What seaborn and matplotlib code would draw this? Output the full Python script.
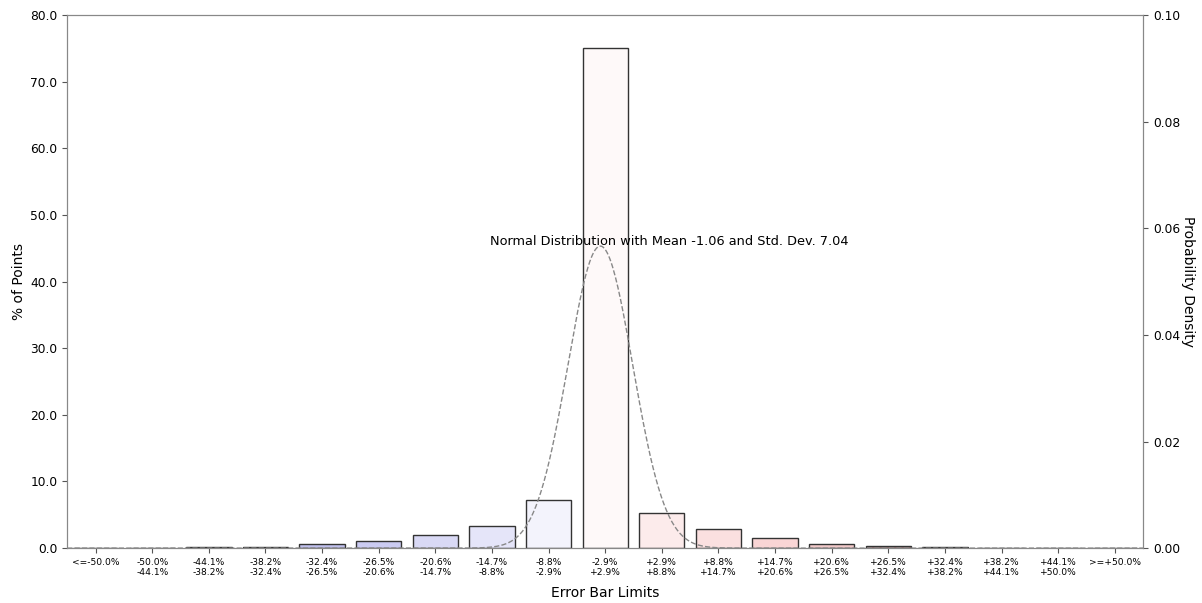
import numpy as np
import pandas as pd
import matplotlib
matplotlib.use("Agg")
import matplotlib.pyplot as plt
import seaborn as sns

# Données
bins = ["<=-50.0%", "-50.0%\n-44.1%", "-44.1%\n-38.2%", "-38.2%\n-32.4%", "-32.4%\n-26.5%",
        "-26.5%\n-20.6%", "-20.6%\n-14.7%", "-14.7%\n-8.8%", "-8.8%\n-2.9%", "-2.9%\n+2.9%",
        "+2.9%\n+8.8%", "+8.8%\n+14.7%", "+14.7%\n+20.6%", "+20.6%\n+26.5%", "+26.5%\n+32.4%",
        "+32.4%\n+38.2%", "+38.2%\n+44.1%", "+44.1%\n+50.0%", ">=+50.0%"]
pct_points = [0.03, 0.05, 0.1, 0.2, 0.55, 1.0, 2.0, 3.3, 7.25, 75.1,
              5.2, 2.9, 1.45, 0.65, 0.35, 0.15, 0.07, 0.03, 0.02]
bar_colors = ["#101060", "#202090", "#3030b8", "#6060d8", "#b8b8f4", "#c4c4f8",
              "#d4d4fa", "#e2e2fc", "#f1f1fe", "#fff8f8", "#ffe8e8", "#ffdcdc",
              "#ffcfcf", "#f8c2c2", "#c08888", "#a05858", "#803838", "#602020", "#401010"]
mean_err = -1.06
std_err = 7.04
curve_scale = 12.3  # % d'erreur par classe sur l'axe de la courbe

df = pd.DataFrame({"bin": bins, "pct": pct_points})

sns.set_style("ticks", {"axes.edgecolor": "#888888", "text.color": "black",
                        "axes.labelcolor": "black", "xtick.color": "#555555",
                        "ytick.color": "#555555"})
plt.rcParams["font.family"] = ["DejaVu Sans"]

fig, ax = plt.subplots(figsize=(12.02, 6.03), dpi=100)
fig.subplots_adjust(left=0.056, right=0.951, top=0.975, bottom=0.091)

sns.barplot(data=df, x="bin", y="pct", hue="bin", palette=bar_colors, legend=False,
            width=0.8, edgecolor="#333333", linewidth=1.0, ax=ax)
ax.set_xlim(-0.5, 18.5)
ax.set_ylim(0, 80)
ax.set_yticks(np.arange(0, 81, 10))
ax.set_yticklabels([f"{v:.1f}" for v in np.arange(0, 81, 10)], fontsize=8.8, color="black")
ax.tick_params(axis="x", labelsize=6.6, labelcolor="black")
ax.set_xlabel("Error Bar Limits", fontsize=10, labelpad=6)
ax.set_ylabel("% of Points", fontsize=10, labelpad=3)

# Courbe normale sur l'axe secondaire
ax2 = ax.twinx()
err = np.linspace(-9.5 * curve_scale, 9.5 * curve_scale, 800)
dens = np.exp(-0.5 * ((err - mean_err) / std_err) ** 2) / (std_err * np.sqrt(2 * np.pi))
curve = pd.DataFrame({"x": 9 + err / curve_scale, "d": dens})
sns.lineplot(data=curve, x="x", y="d", color="#888888", linestyle="--", linewidth=1.0, ax=ax2)
ax2.set_ylim(0, 0.1)
ax2.set_xlim(-0.5, 18.5)
ax2.set_yticks(np.arange(0, 0.101, 0.02))
ax2.set_yticklabels([f"{v:.2f}" for v in np.arange(0, 0.101, 0.02)], fontsize=8.8, color="black")
ax2.set_ylabel("Probability Density", fontsize=10, rotation=270, labelpad=11)
ax2.set_xlabel("")
ax2.text(10.13, 0.0576, f"Normal Distribution with Mean {mean_err} and Std. Dev. {std_err}",
         ha="center", va="center", fontsize=9.3)

fig.savefig("out.png", dpi=100)
